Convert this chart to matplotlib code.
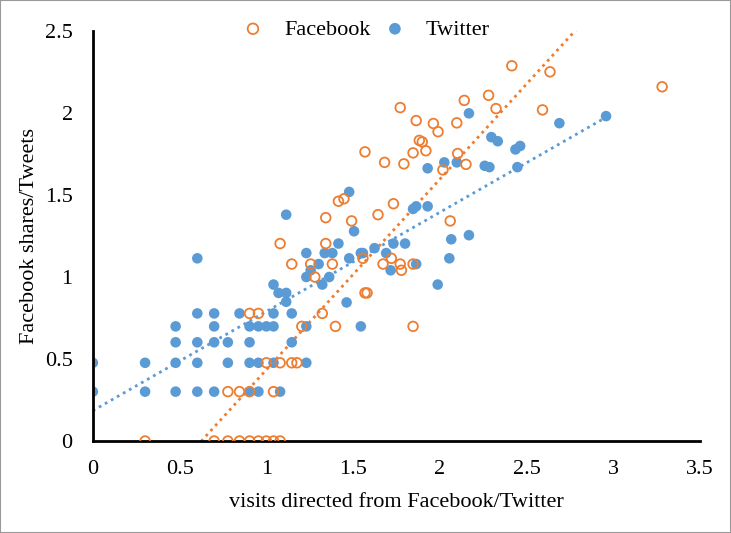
import numpy as np
import matplotlib
matplotlib.use("Agg")
import matplotlib.pyplot as plt
from matplotlib.patches import Rectangle

# Facebook (x = visits directed, y = shares)
fb_x = [0.301, 0.699, 0.778, 0.845, 0.903, 0.954, 1.0, 1.041, 1.079,
        0.778, 0.845, 0.903, 1.041,
        1.0, 1.079, 1.146, 1.176,
        1.204, 1.398, 1.845,
        0.903, 0.954, 1.322,
        1.146, 1.079, 1.255, 1.279, 1.342, 1.342, 1.380, 1.415, 1.447, 1.491,
        1.556, 1.568, 1.580, 1.568, 1.643, 1.681, 1.672, 1.732, 1.720, 1.771,
        1.771, 1.778, 1.792, 1.845, 1.845, 1.863, 1.881, 1.898, 1.919, 1.962,
        1.989, 2.017, 2.059, 2.097, 2.102, 2.140, 2.150, 2.280, 2.323, 2.414,
        2.591, 2.634, 3.280]
fb_y = [0.0, 0.0, 0.0, 0.0, 0.0, 0.0, 0.0, 0.0, 0.0,
        0.301, 0.301, 0.301, 0.301,
        0.477, 0.477, 0.477, 0.477,
        0.699, 0.699, 0.699,
        0.778, 0.778, 0.778,
        1.079, 1.204, 1.079, 1.0, 1.362, 1.204, 1.079, 1.462, 1.477, 1.342,
        1.114, 0.903, 0.903, 1.763, 1.380, 1.699, 1.079, 1.447, 1.114, 2.033,
        1.079, 1.041, 1.690, 1.079, 1.757, 1.954, 1.833, 1.824, 1.770, 1.936,
        1.886, 1.653, 1.342, 1.940, 1.753, 2.077, 1.687, 2.108, 2.027, 2.288,
        2.019, 2.251, 2.160]

# Twitter (x = visits directed, y = tweets)
tw_x = [0.0, 0.301, 0.477, 0.602, 0.699, 0.903, 0.954, 1.079,
        0.0, 0.301, 0.477, 0.602, 0.778, 0.903, 0.954, 1.041, 1.230,
        0.477, 0.602, 0.699, 0.778, 0.903, 1.146,
        0.477, 0.699, 0.903, 0.954, 1.0, 1.041, 1.230, 1.544,
        0.602, 0.699, 0.845, 1.041, 1.146,
        1.114, 1.462, 1.070, 1.114, 1.041, 0.602, 1.114,
        1.230, 1.230, 1.255, 1.301, 1.322, 1.336, 1.362, 1.380, 1.415, 1.477,
        1.477, 1.505, 1.544, 1.556, 1.623, 1.690, 1.716, 1.732, 1.799, 1.845,
        1.863, 1.863, 1.929, 1.929, 1.987, 2.025, 2.054, 2.065, 2.097, 2.167,
        2.167, 2.258, 2.285, 2.296, 2.333, 2.435, 2.462, 2.446, 2.688, 2.957]
tw_y = [0.301, 0.301, 0.301, 0.301, 0.301, 0.301, 0.301, 0.301,
        0.477, 0.477, 0.477, 0.477, 0.477, 0.477, 0.477, 0.477, 0.477,
        0.602, 0.602, 0.602, 0.602, 0.602, 0.602,
        0.699, 0.699, 0.699, 0.699, 0.699, 0.699, 0.699, 0.699,
        0.778, 0.778, 0.778, 0.778, 0.778,
        0.849, 0.845, 0.903, 0.903, 0.954, 1.114, 1.380,
        1.146, 1.0, 1.041, 1.079, 0.954, 1.146, 1.0, 1.146, 1.204, 1.519,
        1.114, 1.279, 1.146, 1.146, 1.176, 1.146, 1.041, 1.204, 1.204, 1.415,
        1.431, 1.079, 1.431, 1.663, 0.954, 1.699, 1.114, 1.230, 1.699, 1.998,
        1.255, 1.678, 1.670, 1.853, 1.828, 1.778, 1.799, 1.670, 1.938, 1.981]

# linear trendline coefficients (slope, intercept)
fb_trend = [1.162, -0.727]
tw_trend = [0.605, 0.185]

x_ticks = [0, 0.5, 1, 1.5, 2, 2.5, 3, 3.5]
x_tick_labels = ["0", "0.5", "1", "1.5", "2", "2.5", "3", "3.5"]
y_ticks = [0, 0.5, 1, 1.5, 2, 2.5]
y_tick_labels = ["0", "0.5", "1", "1.5", "2", "2.5"]

ORANGE = "#ED7D31"
BLUE = "#5B9BD5"

plt.rcParams['font.family'] = ['Liberation Serif', 'DejaVu Serif']

fig = plt.figure(figsize=(7.31, 5.33), dpi=100)
ax = fig.add_axes([0.127, 0.1726, 0.831, 0.7692])

ax.scatter(fb_x, fb_y, s=48, facecolors='none', edgecolors=ORANGE,
           linewidths=1.3, label="Facebook", zorder=3)
ax.scatter(tw_x, tw_y, s=58, color=BLUE, edgecolors='none',
           label="Twitter", zorder=2)

# linear trendlines over each series' x range
for xs, (k, b), col in [(fb_x, fb_trend, ORANGE), (tw_x, tw_trend, BLUE)]:
    xs = np.asarray(xs)
    xl = np.linspace(xs.min(), xs.max(), 300)
    ax.plot(xl, k * xl + b, linestyle=(0, (1, 1.5)), color=col, lw=2.0,
            zorder=1)

ax.set_xlim(0, 3.5)
ax.set_ylim(0, 2.5)
ax.set_xticks(x_ticks)
ax.set_xticklabels(x_tick_labels)
ax.set_yticks(y_ticks)
ax.set_yticklabels(y_tick_labels)
ax.tick_params(length=0, labelsize=16)
ax.tick_params(axis='x', pad=14)
ax.tick_params(axis='y', pad=14.5)
for s in ['top', 'right']:
    ax.spines[s].set_visible(False)
for s in ['left', 'bottom']:
    ax.spines[s].set_linewidth(2)
    ax.spines[s].set_color('black')

ax.set_xlabel("visits directed from Facebook/Twitter", fontsize=16, labelpad=9.5)
ax.set_ylabel("Facebook shares/Tweets", fontsize=16, labelpad=4)

fig.legend(loc='center', bbox_to_anchor=(0.493, 0.945), ncol=2, frameon=False,
           fontsize=16, handletextpad=0.4, columnspacing=0.1, markerscale=1.1)

fig.add_artist(Rectangle((0, 0), 1, 1, transform=fig.transFigure,
                         fill=False, edgecolor='#999999', lw=1.5))

fig.savefig("out.png", dpi=100)
